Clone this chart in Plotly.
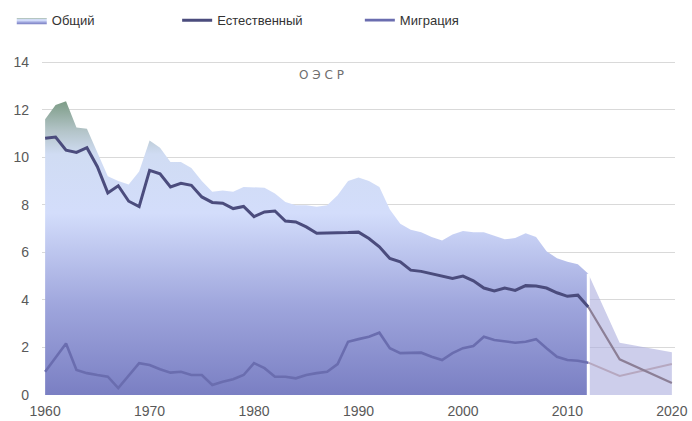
import plotly.graph_objects as go

# ---------------- data ----------------
years = list(range(1960, 2013))
total = [11.6, 12.2, 12.35, 11.25, 11.2, 10.2, 9.2, 9.0, 8.85, 9.4,
         10.7, 10.4, 9.8, 9.8, 9.55, 9.0, 8.55, 8.6, 8.55, 8.75,
         8.75, 8.72, 8.47, 8.12, 7.98, 7.98, 7.92, 7.98, 8.4, 9.0,
         9.15, 9.0, 8.75, 7.8, 7.2, 6.95, 6.85, 6.65, 6.5, 6.75,
         6.9, 6.85, 6.85, 6.7, 6.55, 6.6, 6.8, 6.65, 6.05, 5.75,
         5.6, 5.5, 5.1]
natural = [10.8, 10.85, 10.3, 10.2, 10.4, 9.6, 8.5, 8.8, 8.15, 7.92,
           9.45, 9.3, 8.75, 8.9, 8.82, 8.33, 8.1, 8.07, 7.84, 7.93,
           7.5, 7.7, 7.74, 7.32, 7.28, 7.07, 6.8, 6.8, 6.8, 6.83,
           6.85, 6.58, 6.23, 5.74, 5.6, 5.25, 5.2, 5.1, 5.0, 4.9,
           5.0, 4.8, 4.5, 4.38, 4.5, 4.4, 4.6, 4.58, 4.5, 4.3,
           4.15, 4.2, 3.7]
migration = [0.98, 1.55, 2.17, 1.05, 0.92, 0.84, 0.77, 0.29, 0.84, 1.34,
             1.26, 1.08, 0.94, 0.98, 0.84, 0.84, 0.42, 0.56, 0.66, 0.84,
             1.34, 1.13, 0.77, 0.77, 0.7, 0.84, 0.92, 0.98, 1.3, 2.24,
             2.35, 2.45, 2.62, 1.97, 1.76, 1.78, 1.78, 1.61, 1.47, 1.76,
             1.97, 2.06, 2.45, 2.31, 2.24, 2.2, 2.24, 2.35, 1.97, 1.61,
             1.47, 1.44, 1.36]

fc_years = [2012, 2015, 2020]
fc_total = [5.1, 2.2, 1.8]
fc_natural = [3.7, 1.5, 0.5]
fc_migration = [1.36, 0.8, 1.3]

y_ticks = [0, 2, 4, 6, 8, 10, 12, 14]
x_ticks = [1960, 1970, 1980, 1990, 2000, 2010, 2020]

names = ["Общий", "Естественный", "Миграция"]
label_oecd = "О Э С Р"

# ---------------- figure ----------------
fig = go.Figure()

fig.add_trace(go.Scatter(
    x=years, y=total, name=names[0], mode="lines",
    line=dict(width=0, color="#c9d6f8"),
    fill="tozeroy",
    fillgradient=dict(
        type="vertical", start=0, stop=max(total),
        colorscale=[[0.0, "#7a7fc3"], [0.3, "#9ea5dc"], [0.62, "#d3ddfb"],
                    [0.82, "#d0dcf3"], [0.9, "#b3c4c8"], [1.0, "#7d9c86"]]),
    legend="legend", hoverinfo="skip"))

fig.add_trace(go.Scatter(
    x=fc_years, y=fc_total, mode="lines",
    line=dict(width=0, color="rgba(0,0,0,0)"),
    fill="tozeroy", fillcolor="rgba(172,174,222,0.6)",
    showlegend=False, hoverinfo="skip"))

# white separator at the start of the forecast
fig.add_trace(go.Scatter(
    x=[fc_years[0], fc_years[0]], y=[0, fc_total[0]], mode="lines",
    line=dict(width=3, color="white"), showlegend=False, hoverinfo="skip"))

fig.add_trace(go.Scatter(
    x=fc_years, y=fc_migration, mode="lines",
    line=dict(width=2, color="#b6a8c0"), showlegend=False, hoverinfo="skip"))
fig.add_trace(go.Scatter(
    x=fc_years, y=fc_natural, mode="lines",
    line=dict(width=2.2, color="#8c7f96"), showlegend=False, hoverinfo="skip"))

fig.add_trace(go.Scatter(
    x=years, y=migration, name=names[2], mode="lines",
    line=dict(width=2.6, color="#6a6daf"), legend="legend3"))
fig.add_trace(go.Scatter(
    x=years, y=natural, name=names[1], mode="lines",
    line=dict(width=3, color="#4b4c7d"), legend="legend2"))

legend_common = dict(orientation="h", xref="container", yref="container",
                     yanchor="middle", y=0.952, xanchor="left",
                     bgcolor="rgba(0,0,0,0)",
                     font=dict(family="Liberation Sans, Arial", size=13, color="#333333"))

fig.update_layout(
    width=692, height=421,
    margin=dict(l=42, r=17, t=55, b=26, autoexpand=False),
    paper_bgcolor="white", plot_bgcolor="white",
    font=dict(family="Liberation Sans, Arial", color="#595959"),
    legend=dict(legend_common, x=0.017),
    legend2=dict(legend_common, x=0.256),
    legend3=dict(legend_common, x=0.52),
    xaxis=dict(range=[1959.7, 2020.3], tickmode="array", tickvals=x_ticks,
               showgrid=False, zeroline=False, showline=False, ticks="",
               ticklabelstandoff=6,
               tickfont=dict(size=14, color="#595959")),
    yaxis=dict(range=[0, 14.3], tickmode="array", tickvals=y_ticks,
               showgrid=True, gridcolor="#d9d9d9", gridwidth=1,
               zeroline=False, showline=False, ticks="",
               ticklabelstandoff=12,
               tickfont=dict(size=14, color="#595959")),
    annotations=[dict(text=label_oecd, xref="paper", yref="paper",
                      x=0.441, y=0.968, showarrow=False,
                      font=dict(family="DejaVu Sans", size=12, color="#6e6e6e"))],
)

fig.write_html("out.html", config={"displayModeBar": False},
               post_script="document.body.style.margin='0';document.body.style.overflow='hidden';")
